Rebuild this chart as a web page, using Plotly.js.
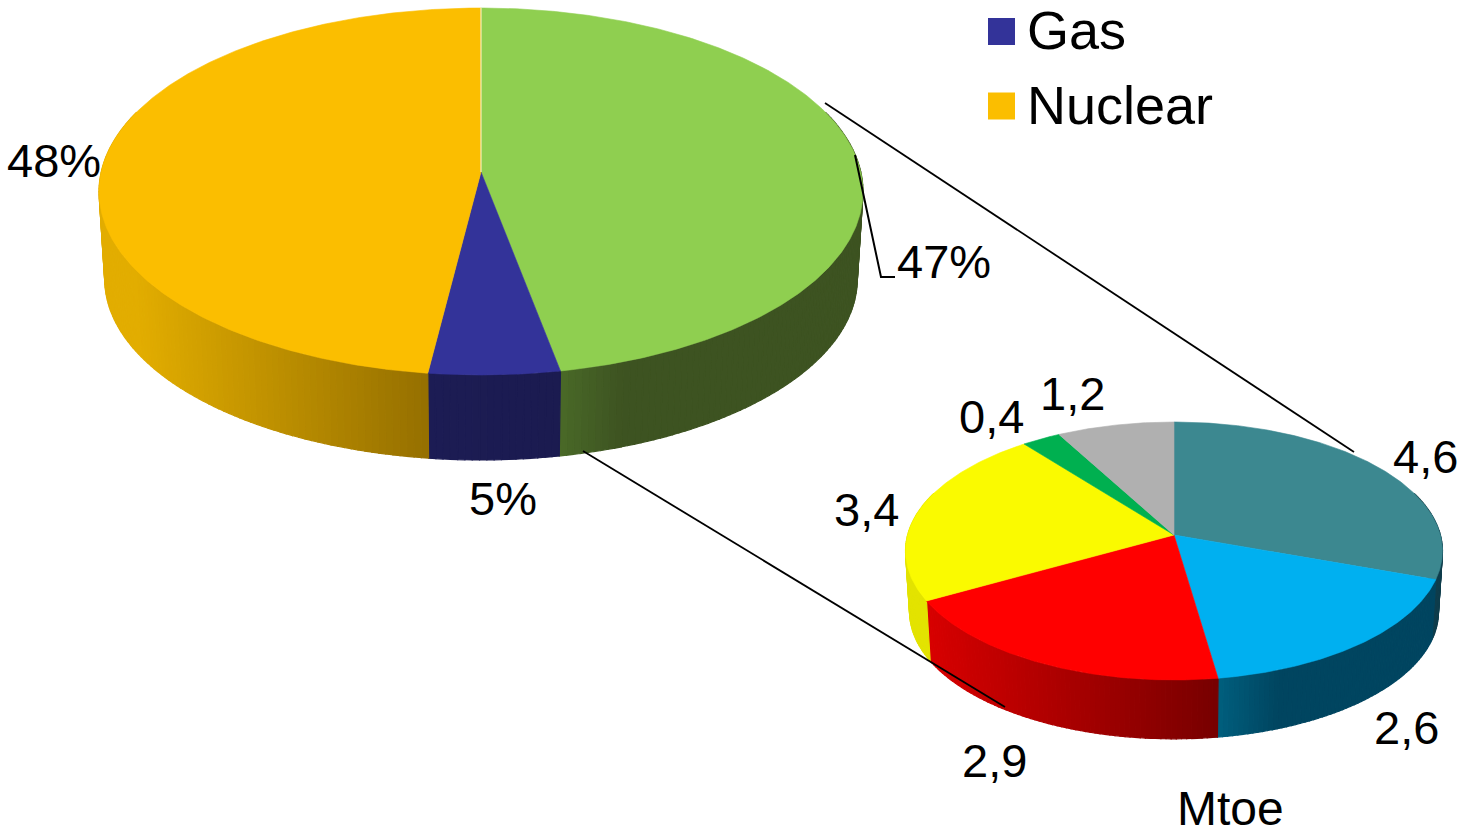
<!DOCTYPE html>
<html>
<head>
<meta charset="utf-8">
<script src="https://cdn.plot.ly/plotly-3.0.1.min.js"></script>
<style>html,body{margin:0;padding:0;background:#fff;overflow:hidden}#chart{width:1458px;height:836px}</style>
</head>
<body>
<div id="chart"></div>
<script>
// ---- data ----
const mainCategories = ["Other", "Gas", "Nuclear"];
const mainShares = [47, 5, 48];
const gasBreakdown = [4.6, 2.6, 2.9, 3.4, 0.4, 1.2];
const legendNames = ["Gas", "Nuclear"];
const unitLabel = "Mtoe";

// ---- styles ----
const mainTop = ["#8fcf50", "#333399", "#fbbe00"];
const mainSideFrom = ["#4a6a28", "#1c1c54", "#e2ad00"];
const mainSideTo = ["#3d5321", "#1b1b50", "#967000"];
const subTop = ["#3c8890", "#00b0f0", "#ff0000", "#fafa00", "#00b050", "#b0b0b0"];
const subSideFrom = ["#1b3d40", "#00607f", "#d80000", "#e3e300", "#e3e300", "#e3e300"];
const subSideTo = ["#0f3d4c", "#004560", "#780000", "#e3e300", "#e3e300", "#e3e300"];

// ---- perspective disc geometry ----
const mainDisc = {x0:481, yTop:172, A:379.8, B:181.4, k:0.1063, yLow:260, s:0.985};
const subDisc  = {x0:1174, yTop:535, A:266.4, B:127, k:0.124, yLow:596, s:0.985};

function proj(d, deg, low){
  const t = deg*Math.PI/180, u = Math.sin(t), v = Math.cos(t), w = 1 + d.k*v;
  const s = low ? d.s : 1, y0 = low ? d.yLow : d.yTop;
  return [d.x0 + s*d.A*u/w, y0 - s*d.B*v/w];
}
function hex(c){return [1,3,5].map(i=>parseInt(c.substr(i,2),16));}
function mix(a,b,t){const A=hex(a),B=hex(b);t=Math.max(0,Math.min(1,t));
  return 'rgb('+A.map((x,i)=>Math.round(x+(B[i]-x)*t)).join(',')+')';}

const traces = [];
function drawDisc(d, values, tops, from, to, fastGrad){
  const total = values.reduce((a,b)=>a+b,0);
  let start = 0; const wedges = [];
  values.forEach((v,i)=>{const end = start + v/total*360; wedges.push([start,end,i]); start = end;});
  // sides: shade runs left to right across each wedge
  wedges.forEach(([a,b,i])=>{
    const lo = Math.max(a, 70), hi = Math.min(b, 290);
    if (hi <= lo) return;
    const n = Math.max(1, Math.ceil(hi-lo));
    const xa = proj(d,lo,false)[0], xb = proj(d,hi,false)[0];
    const xmin = Math.min(xa,xb), xmax = Math.max(xa,xb);
    for (let j=0;j<n;j++){
      const p = lo+(hi-lo)*j/n, q = lo+(hi-lo)*(j+1)/n;
      const P1=proj(d,p,false),P2=proj(d,q,false),P3=proj(d,q,true),P4=proj(d,p,true);
      let t = (P1[0]-xmin)/((xmax-xmin)||1);
      if (fastGrad && fastGrad[i]) t = Math.min(1, t*fastGrad[i]);
      const c = mix(from[i],to[i],t);
      traces.push({type:'scatter',mode:'lines',x:[P1[0],P2[0],P3[0],P4[0],P1[0]],y:[P1[1],P2[1],P3[1],P4[1],P1[1]],
        fill:'toself',fillcolor:c,line:{width:1.2,color:c},hoverinfo:'skip',showlegend:false});
    }
    // hard edge between neighbouring side wedges is kept by redrawing at the wedge's own end
  });
  // tops
  wedges.forEach(([a,b,i])=>{
    const xs=[d.x0], ys=[d.yTop];
    const n=Math.ceil((b-a)*2);
    for(let j=0;j<=n;j++){const P=proj(d,a+(b-a)*j/n,false);xs.push(P[0]);ys.push(P[1]);}
    xs.push(d.x0);ys.push(d.yTop);
    traces.push({type:'scatter',mode:'lines',x:xs,y:ys,fill:'toself',fillcolor:tops[i],
      line:{width:0.6,color:tops[i]},hoverinfo:'skip',showlegend:false,name:''});
  });
}
drawDisc(mainDisc, mainShares, mainTop, mainSideFrom, mainSideTo, [4,1,1]);
drawDisc(subDisc, gasBreakdown, subTop, subSideFrom, subSideTo, [1,3.5,1,1,1,1]);

// pale seam at the top of the main pie
const seamEnd = proj(mainDisc,0,false);
traces.push({type:'scatter',mode:'lines',x:[mainDisc.x0,seamEnd[0]],y:[mainDisc.yTop,seamEnd[1]],
  line:{color:'#f2f6e0',width:1},hoverinfo:'skip',showlegend:false});

// connector and leader lines
function line(xs,ys,w){traces.push({type:'scatter',mode:'lines',x:xs,y:ys,line:{color:'#000',width:w},hoverinfo:'skip',showlegend:false});}
line([825,1354],[103,452],1.8);
line([583,1005],[451,707],1.8);
line([855,881,895],[155,277,277],2);

// legend swatches
traces.push({type:'scatter',mode:'markers',x:[1001.5,1001.5],y:[31.5,106],
  marker:{symbol:'square',size:27,color:[mainTop[1],mainTop[2]],line:{width:0}},hoverinfo:'skip',showlegend:false});

// labels
const fam = '"Liberation Sans", Arial, sans-serif';
const comma = v => String(v).replace('.',',');
const ann = [];
function label(text,x,y,size,anchor){ann.push({text:text,x:x,y:y,xref:'x',yref:'y',showarrow:false,
  xanchor:anchor||'center',yanchor:'middle',font:{family:fam,size:size,color:'#000'}});}
label(mainShares[0]+'%',944,261,47);
label(mainShares[1]+'%',503,498,47);
label(mainShares[2]+'%',54,160,47);
label(comma(gasBreakdown[0]),1425,456,47);
label(comma(gasBreakdown[1]),1406,727,47);
label(comma(gasBreakdown[2]),994,760,47);
label(comma(gasBreakdown[3]),866,509,47);
label(comma(gasBreakdown[4]),991,416,47);
label(comma(gasBreakdown[5]),1072,393,47);
label(unitLabel,1230,808,48);
label(legendNames[0],1025,30,54,'left');
label(legendNames[1],1025,105,54,'left');

Plotly.newPlot('chart',traces,{
  width:1458,height:836,margin:{l:0,r:0,t:0,b:0},
  paper_bgcolor:'#fff',plot_bgcolor:'#fff',showlegend:false,
  xaxis:{range:[0,1458],visible:false,fixedrange:true},
  yaxis:{range:[836,0],visible:false,fixedrange:true},
  annotations:ann
},{displayModeBar:false,staticPlot:true});
</script>
</body>
</html>
